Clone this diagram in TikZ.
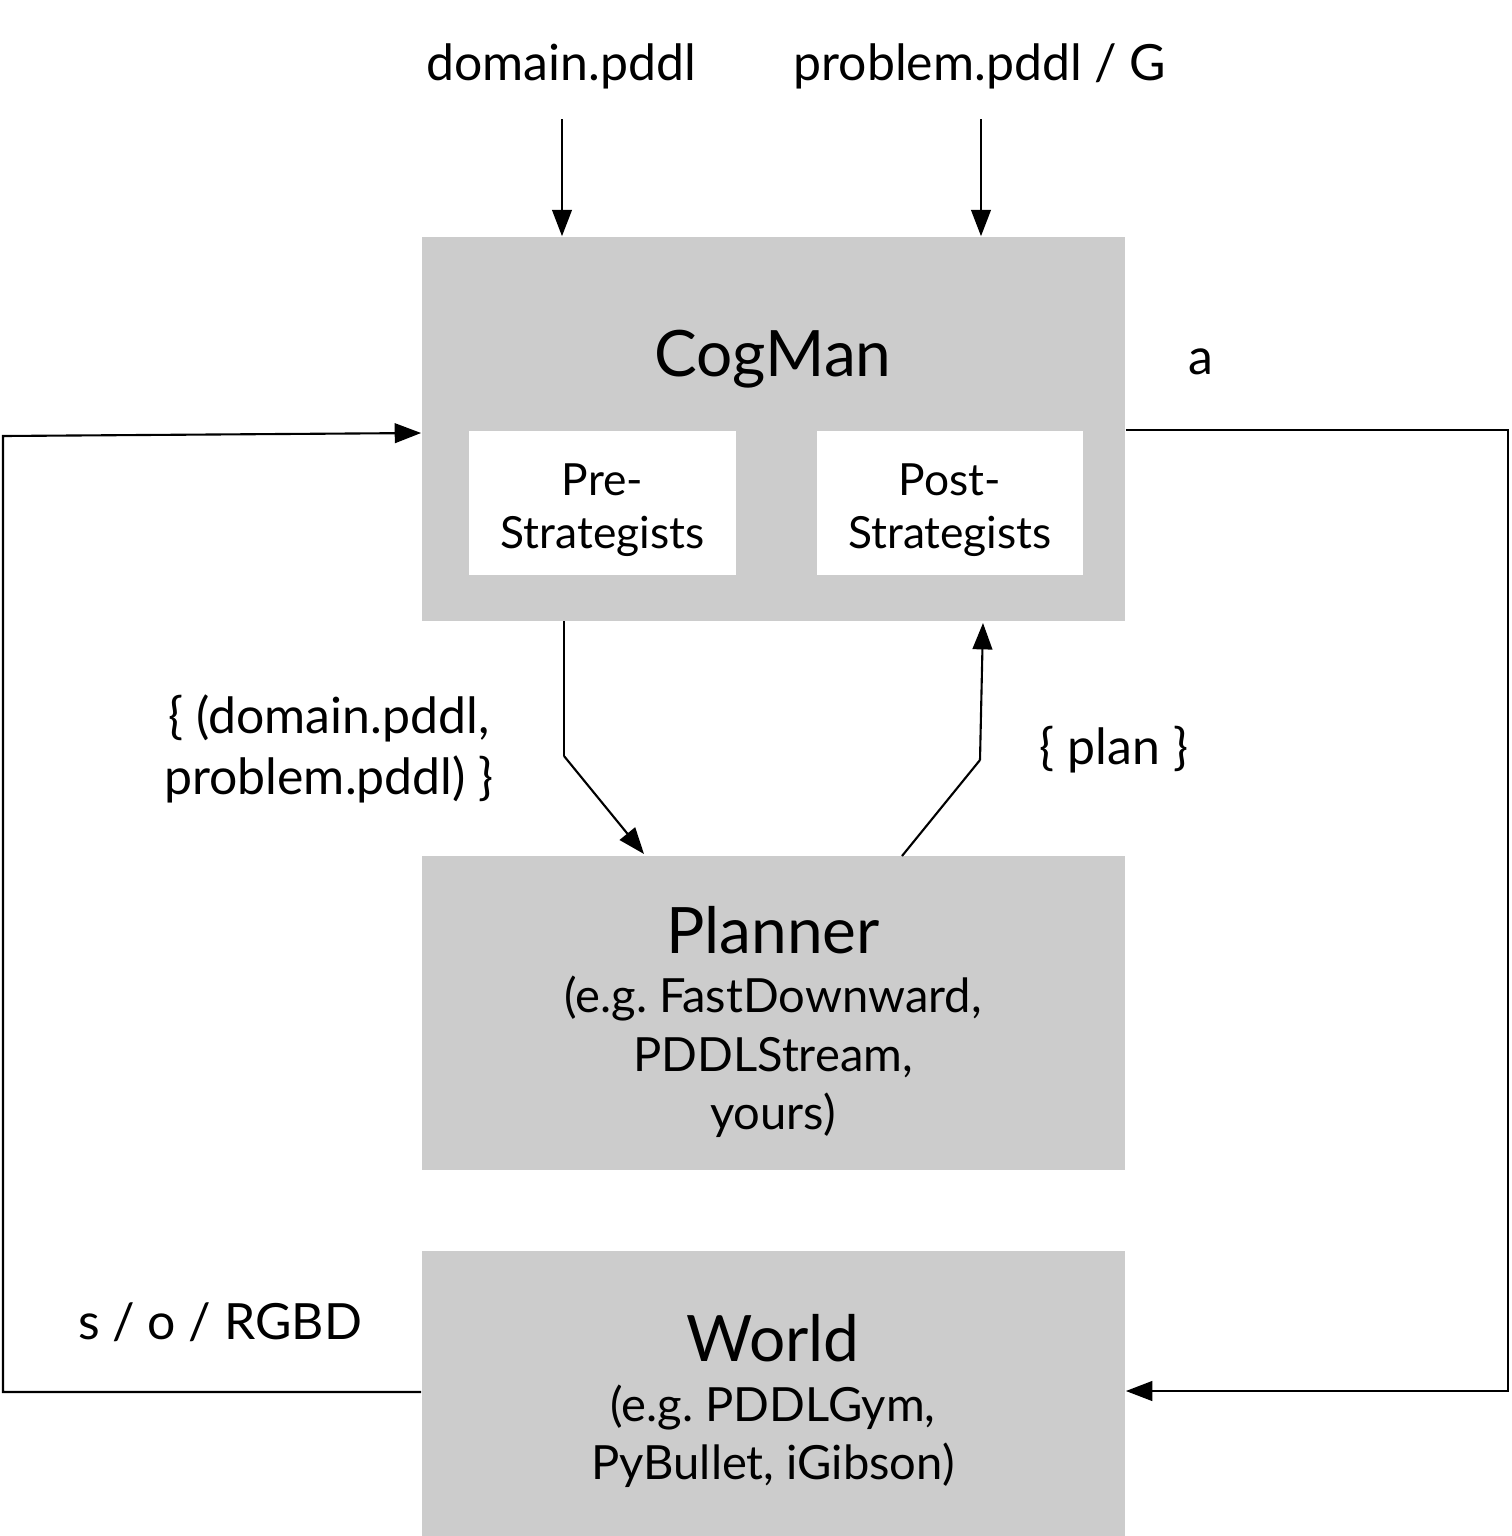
\documentclass[tikz,border=0pt]{standalone}
\usepackage{fontspec}
\setmainfont{Lato}
\usetikzlibrary{arrows.meta}
\definecolor{boxgray}{HTML}{CCCCCC}
\frenchspacing
\begin{document}
\begin{tikzpicture}[x=0.01cm,y=-0.01cm,
  graybox/.style={fill=boxgray,draw=none,inner sep=0pt},
  whitebox/.style={fill=white,draw=none,inner sep=0pt,minimum width=2.66cm,minimum height=1.44cm},
  wtxt/.style={inner sep=0pt,align=center,font=\fontsize{12.6}{15}\selectfont},
  lbl/.style={inner sep=0pt,align=center,font=\fontsize{14.2}{17.2}\selectfont},
  sub/.style={inner sep=0pt,align=center,font=\fontsize{13.4}{16.6}\selectfont},
  big/.style={inner sep=0pt,font=\fontsize{18.2}{20}\selectfont},
  arr/.style={line width=0.6pt,-{Triangle[length=7.5pt,width=5.6pt]}},
  ln/.style={line width=0.6pt}]
\useasboundingbox (0,0) rectangle (1511,1536);
% boxes
\node[graybox,minimum width=7.03cm,minimum height=3.84cm] (cog) at (773.5,429) {};
\node[whitebox] (pre) at (602.5,503) {};
\node[whitebox] (post) at (950,503) {};
\node[wtxt] (pretxt) at (602.5,510) {Pre-\\Strategists};
\node[wtxt] (posttxt) at (950,510) {Post-\\Strategists};
\node[graybox,minimum width=7.03cm,minimum height=3.14cm] (plan) at (773.5,1013) {};
\node[graybox,minimum width=7.03cm,minimum height=2.85cm] (world) at (773.5,1393.5) {};
% titles
\node[big] (cogt) at (773,359) {CogMan};
\node[big] (plant) at (773,930) {Planner};
\node[sub] (plans) at (773,1057) {(e.g. FastDownward,\\PDDLStream,\\yours)};
\node[big] (worldt) at (773,1338) {World};
\node[sub] (worlds) at (773,1436) {(e.g. PDDLGym,\\PyBullet, iGibson)};
% labels
\node[lbl] (ldom) at (561,66) {domain.pddl};
\node[lbl] (lprob) at (980,66) {problem.pddl / G};
\node[lbl] (la) at (1201,362) {a};
\node[lbl] (lpairs) at (329,749) {\{ (domain.pddl,\\problem.pddl) \}};
\node[lbl] (lplan) at (1114,750) {\{ plan \}};
\node[lbl] (lobs) at (220,1322) {s / o / RGBD};
% connector coordinates
\coordinate (d0) at (562,119);
\coordinate (p0) at (981,119);
\coordinate (r1) at (1508,430);
\coordinate (r2) at (1508,1391);
\coordinate (l1) at (3,1392);
\coordinate (l2) at (3,436);
\coordinate (m1) at (564,756);
\coordinate (m2) at (980,760);
% connectors
\draw[arr] (d0) -- (d0 |- cog.north);
\draw[arr] (p0) -- (p0 |- cog.north);
\draw[ln] (564,621) -- (m1);
\draw[arr] (m1) -- (644,854);
\draw[ln] (902,856) -- (m2);
\draw[arr] (m2) -- (983,623);
\draw[arr] (cog.east |- r1) -- (r1) -- (r2) -- (world.east |- r2);
\draw[arr] (world.west |- l1) -- (l1) -- (l2) -- (cog.west |- 0,433);
\end{tikzpicture}
\end{document}
